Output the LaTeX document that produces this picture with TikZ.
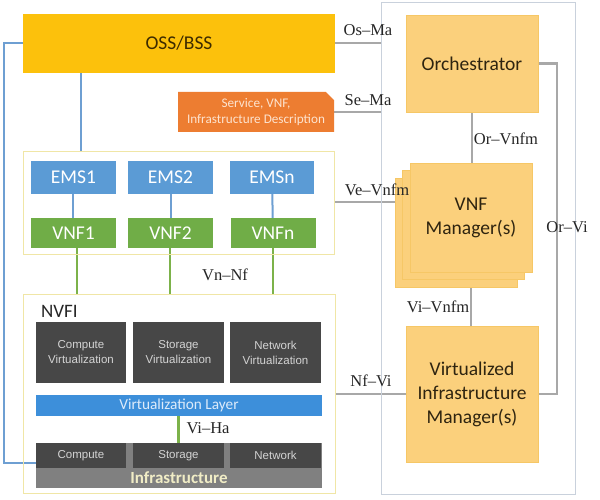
\documentclass[tikz,border=0pt]{standalone}
\usepackage{fontspec}
\setmainfont{Carlito}
\newfontfamily\ifser{Liberation Serif}
\newfontfamily\ifarial{Liberation Sans}
\usetikzlibrary{shapes.misc,shadows,backgrounds}
\definecolor{ossc}{HTML}{FCC10C}
\definecolor{osstxt}{HTML}{3D2B00}
\definecolor{descc}{HTML}{ED7D31}
\definecolor{desctxt}{HTML}{FDE3CF}
\definecolor{mgrc}{HTML}{FBD07C}
\definecolor{mgrd}{HTML}{F6C766}
\definecolor{mgrtxt}{HTML}{2E2410}
\definecolor{emsc}{HTML}{5B9BD5}
\definecolor{vnfc}{HTML}{70AD47}
\definecolor{contc}{HTML}{F0E6A6}
\definecolor{manoc}{HTML}{C9D1DC}
\definecolor{darkc}{HTML}{474747}
\definecolor{darktxt}{HTML}{D4D4D4}
\definecolor{vlc}{HTML}{3D8FDA}
\definecolor{vltxt}{HTML}{DDEBFA}
\definecolor{infc}{HTML}{808080}
\definecolor{inftxt}{HTML}{F1EDC6}
\definecolor{greyl}{HTML}{A8A8A8}
\definecolor{bluel}{HTML}{6E9FD2}
\definecolor{greenl}{HTML}{7CB24A}
\tikzset{
  box/.style={rectangle, inner sep=0pt, align=center},
  bigmgr/.style={box, fill=mgrc, draw=mgrd, line width=0.5pt, text=mgrtxt,
    font=\fontsize{19.5}{24}\selectfont},
  emsbox/.style={box, fill=emsc, text=white, minimum width=85pt, minimum height=33pt,
    font=\fontsize{19.5}{22}\selectfont},
  vnfbox/.style={box, fill=vnfc, text=white, minimum width=85pt, minimum height=30pt,
    font=\fontsize{19.5}{22}\selectfont},
  cont/.style={box, draw=contc, line width=1pt},
  darkbox/.style={box, fill=darkc, text=darktxt, font=\ifarial\fontsize{11.5}{15}\selectfont},
  iflabel/.style={font=\ifser\fontsize{16.5}{18}\selectfont, inner sep=0pt, text=black!85},
  gline/.style={draw=greyl, line width=2.5pt},
  bline/.style={draw=bluel, line width=2pt},
  grline/.style={draw=greenl, line width=2.5pt},
}
\begin{document}
\begin{tikzpicture}[x=1pt,y=-1pt]
\useasboundingbox (0,0) rectangle (600,500);
% containers
\node[box, draw=manoc, line width=0.8pt, minimum width=194pt, minimum height=492pt] (mano) at (478,248) {};
\node[cont, minimum width=311pt, minimum height=102pt] (vnfcont) at (178.5,203) {};
\node[cont, minimum width=312pt, minimum height=199pt] (nfvi) at (179,393.5) {};
% OSS and description
\node[box, fill=ossc, text=osstxt, minimum width=312pt, minimum height=59pt,
  font=\fontsize{19.5}{22}\selectfont] (oss) at (179,43.5) {OSS/BSS};
\node[chamfered rectangle, chamfered rectangle corners=north east, chamfered rectangle xsep=5pt,
  inner sep=0pt, fill=descc, text=desctxt, align=center, minimum width=156pt, minimum height=40pt,
  font=\fontsize{13.2}{15.5}\selectfont] (desc) at (256,112) {Service, VNF,\\Infrastructure Description};
% MANO
\node[bigmgr, minimum width=132pt, minimum height=97pt] (orch) at (472,63.5) {Orchestrator};
\node[bigmgr, minimum width=122pt, minimum height=109pt,
  copy shadow={shadow xshift=-15pt, shadow yshift=-15pt},
  copy shadow={shadow xshift=-7.5pt, shadow yshift=-7.5pt}] (vnfm) at (471,217.5) {VNF\\Manager(s)};
\node[bigmgr, minimum width=132pt, minimum height=136pt] (vim) at (472,394) {Virtualized\\Infrastructure\\Manager(s)};
% EMS / VNF
\node[emsbox] (ems1) at (73.5,177.5) {EMS1};
\node[emsbox] (ems2) at (170.5,177.5) {EMS2};
\node[emsbox, minimum width=84pt] (emsn) at (272,177.5) {EMSn};
\node[vnfbox] (vnf1) at (73.5,233) {VNF1};
\node[vnfbox] (vnf2) at (170.5,233) {VNF2};
\node[vnfbox] (vnfn) at (273,233) {VNFn};
% NFVI
\node[anchor=west, inner sep=0pt, font=\fontsize{19}{21}\selectfont, text=black!85] (nvfilab) at (41,311) {NVFI};
\node[darkbox, minimum width=90pt, minimum height=61pt] (cv) at (81,352.5) {Compute\\Virtualization};
\node[darkbox, minimum width=91pt, minimum height=61pt] (sv) at (178.5,352.5) {Storage\\Virtualization};
\node[darkbox, minimum width=91pt, minimum height=61pt] (nv) at (275.5,352.5) {Network\\Virtualization};
\node[box, fill=vlc, text=vltxt, minimum width=286pt, minimum height=21pt,
  font=\fontsize{15.3}{17}\selectfont] (vl) at (179,405.5) {Virtualization Layer};
\node[box, fill=infc, minimum width=286pt, minimum height=45pt] (infra) at (179,465.5) {};
\node[inner sep=0pt, text=inftxt, font=\bfseries\fontsize{17}{19}\selectfont] (inflab) at (179,478) {Infrastructure};
\node[darkbox, minimum width=90pt, minimum height=25pt] (ic) at (81,455.5) {Compute};
\node[darkbox, minimum width=91pt, minimum height=25pt] (is) at (178.5,455.5) {Storage};
\node[darkbox, minimum width=91pt, minimum height=25pt] (in) at (275.5,455.5) {Network};
% interface labels
\node[iflabel] (osma) at (368,30) {Os–Ma};
\node[iflabel] (sema) at (368,100) {Se–Ma};
\node[iflabel] (orvnfm) at (506,139) {Or–Vnfm};
\node[iflabel] (vevnfm) at (377,190) {Ve–Vnfm};
\node[iflabel] (orvi) at (567,227) {Or–Vi};
\node[iflabel] (vnnf) at (225,275) {Vn–Nf};
\node[iflabel] (vivnfm) at (438,307) {Vi–Vnfm};
\node[iflabel] (nfvilab) at (371,381) {Nf–Vi};
\node[iflabel] (viha) at (208,428) {Vi–Ha};
% connectors
\coordinate (bl) at (4,463);
\coordinate (b2) at (81,0);
\coordinate (b3) at (73,0);
\coordinate (g1) at (77,0);
\coordinate (g2) at (170,0);
\coordinate (g3) at (273,0);
\coordinate (l1) at (0,43);
\coordinate (vev) at (395,202);
\coordinate (orvic) at (557,394);
\begin{scope}[on background layer]
\fill[white] (0,0) rectangle (600,500);
\draw[bline] (oss.west) -| (bl) -- (ic.west |- bl);
\draw[bline] (oss.south -| b2) -- (vnfcont.north -| b2);
\draw[bline] (ems1.south -| b3) -- (vnf1.north -| b3);
\draw[bline] (ems2) -- (vnf2);
\draw[bline] (emsn) -- (vnfn);
\draw[grline] (vnf1.south -| g1) -- (nfvi.north -| g1);
\draw[grline] (vnf2.south -| g2) -- (nfvi.north -| g2);
\draw[grline] (vnfn.south -| g3) -- (nfvi.north -| g3);
\draw[grline] (vl.south -| is.north) -- (is.north);
\draw[gline] (oss.east |- l1) -- (mano.west |- l1);
\draw[gline] (desc.east) -- (mano.west |- desc.east);
\draw[gline] (vnfcont.east |- vev) -- (vev);
\draw[gline] (orch.south) -- (vnfm.north -| orch.south);
\draw[gline] (vnfm.south) -- (vim.north -| vnfm.south);
\draw[gline] (nfvi.east |- vim.west) -- (vim.west);
\draw[gline] (orch.east) -| (orvic) -- (vim.east);
\end{scope}
\end{tikzpicture}
\end{document}
